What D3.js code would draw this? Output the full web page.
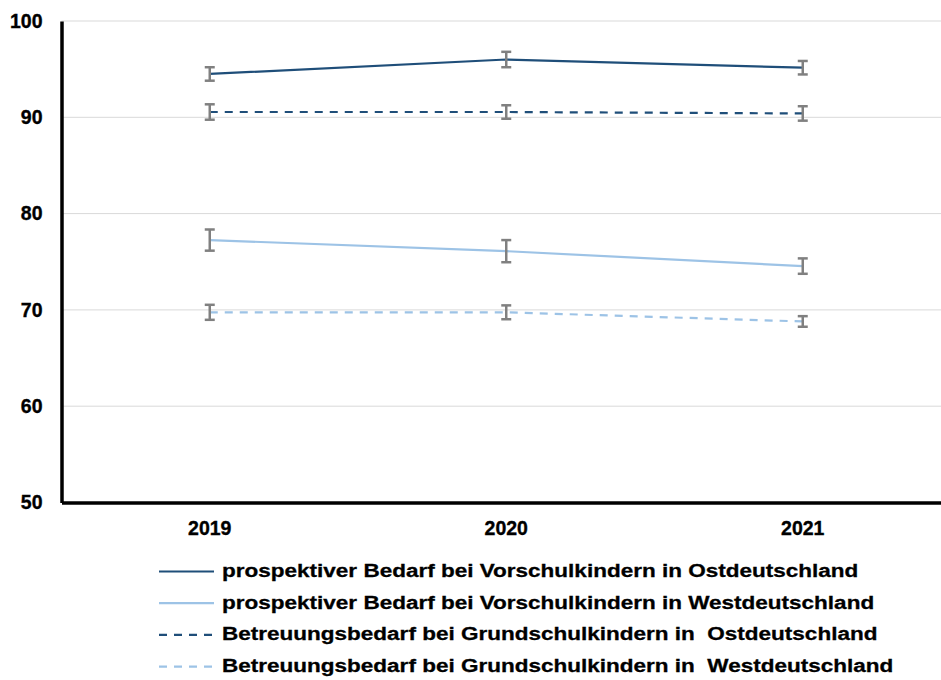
<!DOCTYPE html>
<html>
<head>
<meta charset="utf-8">
<script src="https://cdn.jsdelivr.net/npm/d3@7"></script>
<style>
  body { margin: 0; background: #fff; }
  svg { display: block; font-family: Arial, "Liberation Sans", sans-serif; font-weight: bold; }
  .legend text { white-space: pre; }
</style>
</head>
<body>
<svg id="chart"></svg>
<script>
// values
const years = ['2019', '2020', '2021'];
const yTicks = [50, 60, 70, 80, 90, 100];

const ostVorschul = [94.5, 96.0, 95.15];
const ostVorschulErr = [0.7, 0.8, 0.7];
const westVorschul = [77.25, 76.1, 74.55];
const westVorschulErr = [1.1, 1.15, 0.8];
const ostGrund = [90.55, 90.55, 90.4];
const ostGrundErr = [0.8, 0.7, 0.75];
const westGrund = [69.75, 69.75, 68.8];
const westGrundErr = [0.78, 0.72, 0.55];

const seriesNames = [
  'prospektiver Bedarf bei Vorschulkindern in Ostdeutschland',
  'prospektiver Bedarf bei Vorschulkindern in Westdeutschland',
  'Betreuungsbedarf bei Grundschulkindern in  Ostdeutschland',
  'Betreuungsbedarf bei Grundschulkindern in  Westdeutschland'
];

class LineErrorChart {
  constructor(_config, _series) {
    this.config = {
      parentElement: _config.parentElement,
      containerWidth: _config.containerWidth || 941,
      containerHeight: _config.containerHeight || 680,
      margin: {top: 21, right: -10, bottom: 177.5, left: 61.5}
    };
    this.series = _series;
    this.initVis();
  }

  initVis() {
    let vis = this;

    vis.width = vis.config.containerWidth - vis.config.margin.left - vis.config.margin.right;
    vis.height = vis.config.containerHeight - vis.config.margin.top - vis.config.margin.bottom;

    vis.svg = d3.select(vis.config.parentElement)
      .attr('width', vis.config.containerWidth)
      .attr('height', vis.config.containerHeight);

    vis.chart = vis.svg.append('g')
      .attr('transform', `translate(${vis.config.margin.left},${vis.config.margin.top})`);

    vis.xScale = d3.scaleBand()
      .domain(years)
      .range([0, vis.width]);

    vis.yScale = d3.scaleLinear()
      .domain([50, 100])
      .range([vis.height, 0]);

    // gridlines
    vis.chart.append('g')
      .selectAll('line')
      .data(yTicks.filter(d => d > 50))
      .join('line')
      .attr('x1', 0)
      .attr('x2', vis.width)
      .attr('y1', d => vis.yScale(d))
      .attr('y2', d => vis.yScale(d))
      .attr('stroke', '#d9d9d9')
      .attr('stroke-width', 1);

    vis.xAxis = d3.axisBottom(vis.xScale).tickSize(0).tickSizeOuter(0).tickPadding(19);
    vis.yAxis = d3.axisLeft(vis.yScale).tickValues(yTicks).tickSize(0).tickSizeOuter(0).tickPadding(19);

    vis.renderVis();
  }

  renderVis() {
    let vis = this;
    const cx = d => vis.xScale(d) + vis.xScale.bandwidth() / 2;

    const line = d3.line()
      .x(d => cx(d.year))
      .y(d => vis.yScale(d.value));

    vis.chart.selectAll('.series-line')
      .data(vis.series)
      .join('path')
      .attr('class', 'series-line')
      .attr('fill', 'none')
      .attr('stroke', d => d.color)
      .attr('stroke-width', 2.2)
      .attr('stroke-dasharray', d => d.dash)
      .attr('d', d => line(years.map((y, i) => ({year: y, value: d.values[i]}))));

    // error bars
    const bars = vis.series.flatMap(s => years.map((y, i) => ({year: y, value: s.values[i], err: s.errors[i]})));
    const eb = vis.chart.selectAll('.err-bar')
      .data(bars)
      .join('g')
      .attr('class', 'err-bar')
      .attr('stroke', '#808080')
      .attr('stroke-width', 2.5);
    eb.append('line')
      .attr('x1', d => cx(d.year)).attr('x2', d => cx(d.year))
      .attr('y1', d => vis.yScale(d.value + d.err))
      .attr('y2', d => vis.yScale(d.value - d.err));
    eb.append('line')
      .attr('x1', d => cx(d.year) - 5).attr('x2', d => cx(d.year) + 5)
      .attr('y1', d => vis.yScale(d.value + d.err))
      .attr('y2', d => vis.yScale(d.value + d.err));
    eb.append('line')
      .attr('x1', d => cx(d.year) - 5).attr('x2', d => cx(d.year) + 5)
      .attr('y1', d => vis.yScale(d.value - d.err))
      .attr('y2', d => vis.yScale(d.value - d.err));

    // axes
    vis.xAxisG = vis.chart.append('g')
      .attr('class', 'axis x-axis')
      .attr('transform', `translate(0,${vis.height})`)
      .call(vis.xAxis);
    vis.yAxisG = vis.chart.append('g')
      .attr('class', 'axis y-axis')
      .call(vis.yAxis);

    vis.svg.selectAll('.axis .domain')
      .attr('stroke', '#000')
      .attr('stroke-width', 3.5);
    vis.svg.selectAll('.axis text')
      .attr('fill', '#000')
      .attr('stroke', '#000')
      .attr('stroke-width', 0.35)
      .attr('font-size', 19.5)
      .attr('font-weight', 'bold')
      .attr('font-family', 'Arial, "Liberation Sans", sans-serif');

    // legend
    const legend = vis.svg.append('g')
      .attr('class', 'legend')
      .attr('transform', 'translate(159,571.5)');
    const item = legend.selectAll('g')
      .data(vis.series)
      .join('g')
      .attr('transform', (d, i) => `translate(0,${i * 31.7})`);
    item.append('line')
      .attr('x1', 0).attr('x2', 55)
      .attr('stroke', d => d.color)
      .attr('stroke-width', 2.2)
      .attr('stroke-dasharray', d => d.dash);
    item.append('text')
      .attr('transform', 'translate(63,5.5) scale(1.185,1)')
      .attr('font-size', 19)
      .attr('fill', '#000')
      .attr('stroke', '#000')
      .attr('stroke-width', 0.3)
      .text(d => d.name);
  }
}

const series = [
  {name: seriesNames[0], values: ostVorschul, errors: ostVorschulErr, color: '#1f4e79', dash: null},
  {name: seriesNames[1], values: westVorschul, errors: westVorschulErr, color: '#9dc3e6', dash: null},
  {name: seriesNames[2], values: ostGrund, errors: ostGrundErr, color: '#1f4e79', dash: '8,7'},
  {name: seriesNames[3], values: westGrund, errors: westGrundErr, color: '#9dc3e6', dash: '8,7'}
];

new LineErrorChart({parentElement: '#chart'}, series);
</script>
</body>
</html>
